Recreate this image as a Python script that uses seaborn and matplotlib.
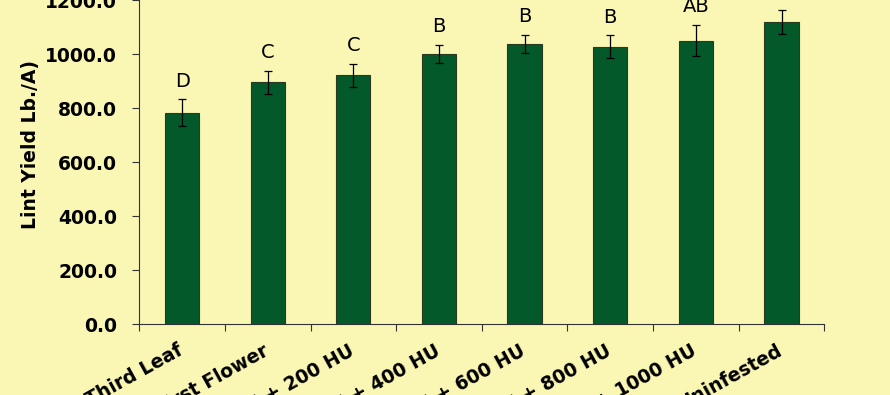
import numpy as np
import pandas as pd
import matplotlib
matplotlib.use("Agg")
import matplotlib.pyplot as plt
import matplotlib.transforms as mtransforms
import seaborn as sns

# Values
treatments = ["Third Leaf", "First Flower", "FF + 200 HU", "FF + 400 HU",
              "FF + 600 HU", "FF + 800 HU", "FF + 1000 HU", "Uninfested"]
lint_yield = [783, 895, 922, 1000, 1037, 1027, 1049, 1119]
yield_err = [50, 44, 43, 33, 34, 42, 58, 43]
letters = ["D", "C", "C", "B", "B", "B", "AB", "A"]
yticks = [0, 200, 400, 600, 800, 1000, 1200]

bg = "#FAF6B4"
bar_color = "#03592A"

sns.set_style("white")
plt.rcParams["font.family"] = ["DejaVu Sans"]
plt.rcParams["text.color"] = "black"
plt.rcParams["axes.labelcolor"] = "black"
plt.rcParams["xtick.color"] = "black"
plt.rcParams["ytick.color"] = "black"

df = pd.DataFrame({"treatment": treatments, "yield": lint_yield})

fig = plt.figure(figsize=(8.9, 3.95), dpi=100, facecolor=bg)
ax = fig.add_axes([0.1565, 0.179, 0.7697, 0.821])
ax.set_facecolor(bg)

sns.barplot(data=df, x="treatment", y="yield", color=bar_color, width=0.4,
            edgecolor="#2a3a20", linewidth=0.8, saturation=1, errorbar=None, ax=ax)
x = np.arange(len(treatments))
ax.errorbar(x, lint_yield, yerr=yield_err, fmt="none", ecolor="black",
            elinewidth=0.9, capsize=3, capthick=0.9)

# significance letters above the error bars
for xi, m, e, lab in zip(x, lint_yield, yield_err, letters):
    ax.text(xi, m + e + 32, lab, ha="center", va="bottom", fontsize=14,
            color="black", clip_on=False)

ax.set_xlim(-0.5, len(treatments) - 0.5)
ax.set_ylim(0, 1200)
ax.set_yticks(yticks)
ax.set_yticklabels([f"{v:.1f}" for v in yticks], fontsize=13.5, fontweight="bold")
ax.tick_params(axis="y", direction="out", length=5, width=0.8, color="#333333", pad=11, left=True)

ax.set_xticks(x)
ax.set_xticklabels(treatments, rotation=29, ha="right", va="top",
                   rotation_mode="anchor", fontsize=13.5, fontweight="bold")
ax.tick_params(axis="x", which="major", length=0, pad=12)
ax.set_xticks(np.arange(-0.5, len(treatments)), minor=True)
ax.tick_params(axis="x", which="minor", direction="out", length=5, width=0.8,
               color="#333333", bottom=True)
shift = mtransforms.ScaledTranslation(-5 / 100, 0, fig.dpi_scale_trans)
for lbl in ax.get_xticklabels():
    lbl.set_transform(lbl.get_transform() + shift)

ax.set_xlabel("")
ax.set_ylabel("Lint Yield Lb./A)", fontsize=13.5, fontweight="bold")
ax.yaxis.set_label_coords(-0.145, 0.555)

sns.despine(ax=ax)
for s in ["left", "bottom"]:
    ax.spines[s].set_color("#333333")
    ax.spines[s].set_linewidth(0.8)

fig.savefig("out.png", dpi=100, facecolor=bg)
